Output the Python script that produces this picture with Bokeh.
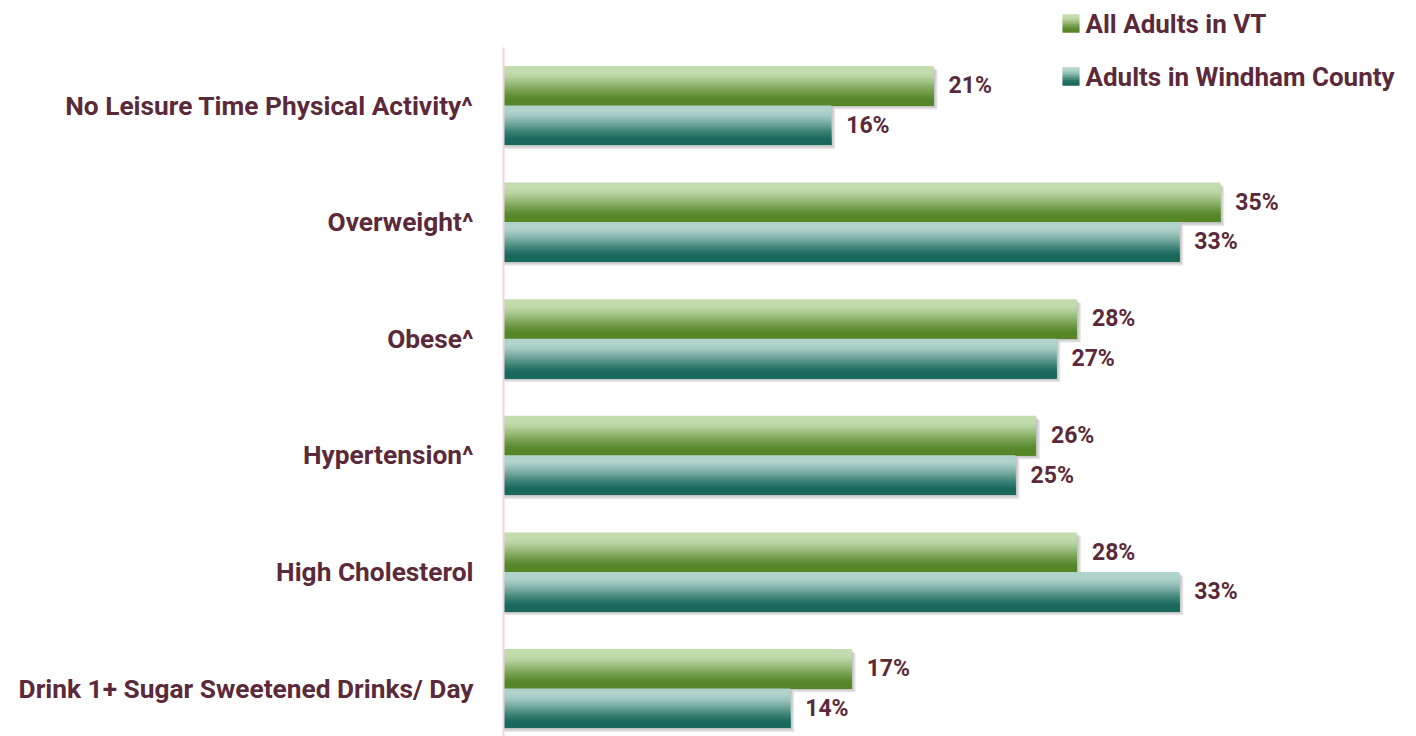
import numpy as np
from bokeh.plotting import figure
from bokeh.models import Range1d, FixedTicker, ColumnDataSource
from bokeh.core.properties import value
from bokeh.embed import file_html
from bokeh.resources import INLINE

# ---------------- data ----------------
categories = [
    "No Leisure Time Physical Activity^",
    "Overweight^",
    "Obese^",
    "Hypertension^",
    "High Cholesterol",
    "Drink 1+ Sugar Sweetened Drinks/ Day",
]
vt_values = [21, 35, 28, 26, 28, 17]
windham_values = [16, 33, 27, 25, 33, 14]
series_names = ["All Adults in VT", "Adults in Windham County"]

# ---------------- style ----------------
FONT_NAME = "Roboto"
FONT = value(FONT_NAME)
TEXT_COLOR = "#5b2a3a"
GREEN = ((0xc3, 0xdc, 0xae), (0x55, 0x86, 0x27))
TEAL = ((0xb0, 0xd3, 0xcb), (0x18, 0x68, 0x5b))

W, H = 1416, 736
LEFT_BORDER = 503
PX_PER_X = 20.48
PX_PER_Y = 116.6
Y0 = 105  # pixel centre of first category
x_end = (W - LEFT_BORDER) / PX_PER_X
y_top = (0 - Y0) / PX_PER_Y
y_bottom = (H - Y0) / PX_PER_Y

BAR_H = 39.5 / PX_PER_Y
N = 24


def px2x(px):
    return (px - LEFT_BORDER) / PX_PER_X


def px2y(py):
    return (py - Y0) / PX_PER_Y


def grad(c, t):
    s = np.clip((t - 0.15) / 0.72, 0, 1)
    s = s * s * (3 - 2 * s) * 0.5 + s * 0.5
    r = [int(round(a + (b - a) * s)) for a, b in zip(c[0], c[1])]
    return "#%02x%02x%02x" % tuple(r)


p = figure(width=W, height=H, output_backend="svg", toolbar_location=None,
           x_range=Range1d(0, x_end), y_range=Range1d(y_bottom, y_top),
           min_border_left=LEFT_BORDER, min_border_right=0,
           min_border_top=0, min_border_bottom=0)
p.outline_line_color = None
p.grid.visible = False
p.xaxis.visible = False
p.background_fill_color = "white"
p.border_fill_color = "white"


def draw_series(vals, offset_sign, colors):
    for k, a in enumerate([0.10, 0.10, 0.12]):
        off = (k + 1) * 1.3
        ys, rs = [], []
        for i, v in enumerate(vals):
            top = i - BAR_H if offset_sign < 0 else i
            ys.append(top + BAR_H / 2 + off / PX_PER_Y)
            rs.append(v + off / PX_PER_X)
        p.hbar(y=ys, left=0, right=rs, height=BAR_H, fill_color="#303030",
               fill_alpha=a, line_color=None)
    ys, hs, rs, cs = [], [], [], []
    for j in range(N):
        for i, v in enumerate(vals):
            top = i - BAR_H if offset_sign < 0 else i
            st = top + j * BAR_H / N
            bot = top + BAR_H
            ys.append((st + bot) / 2)
            hs.append(bot - st)
            rs.append(v)
            cs.append(grad(colors, (j + 0.5) / N))
    src = ColumnDataSource(dict(y=ys, h=hs, r=rs, c=cs))
    p.hbar(y="y", left=0, right="r", height="h", fill_color="c",
           line_color=None, source=src)
    lab = ColumnDataSource(dict(
        x=vals,
        y=[(i - BAR_H / 2) if offset_sign < 0 else (i + BAR_H / 2) for i in range(len(vals))],
        t=["%d%%" % v for v in vals]))
    p.text(x="x", y="y", text="t", source=lab, x_offset=15,
           text_baseline="middle", text_align="left", text_font=FONT,
           text_font_size="23px", text_font_style="bold", text_color=TEXT_COLOR)


draw_series(vt_values, -1, GREEN)
draw_series(windham_values, +1, TEAL)

ax = p.yaxis[0]
ax.ticker = FixedTicker(ticks=list(range(len(categories))))
ax.major_label_overrides = {i: c for i, c in enumerate(categories)}
ax.major_label_text_font = FONT_NAME
ax.major_label_text_font_size = "26.3px"
ax.major_label_text_font_style = "bold"
ax.major_label_text_color = TEXT_COLOR
ax.major_label_standoff = 24
ax.major_tick_line_color = None
ax.minor_tick_line_color = None
ax.axis_line_color = "#f0d6df"
ax.axis_line_width = 2
ax.bounds = (px2y(47), y_bottom)

for k, (name, colors, cy) in enumerate([(series_names[0], GREEN, 23), (series_names[1], TEAL, 76)]):
    M = 12
    xs, ys, cs = [], [], []
    for j in range(M):
        xs.append(px2x(1070.5))
        ys.append(px2y(cy - 9 + (j + 0.5) * 18 / M))
        cs.append(grad(colors, (j + 0.5) / M))
    p.rect(x=xs, y=ys, width=17, height=18 / M + 0.6, width_units="screen",
           height_units="screen", fill_color=cs, line_color=None)
    p.text(x=[px2x(1085)], y=[px2y(cy)], text=[name], text_baseline="middle",
           text_align="left", text_font=FONT, text_font_size="26px",
           text_font_style="bold", text_color=TEXT_COLOR)

open("out.html", "w").write(file_html(p, INLINE))
